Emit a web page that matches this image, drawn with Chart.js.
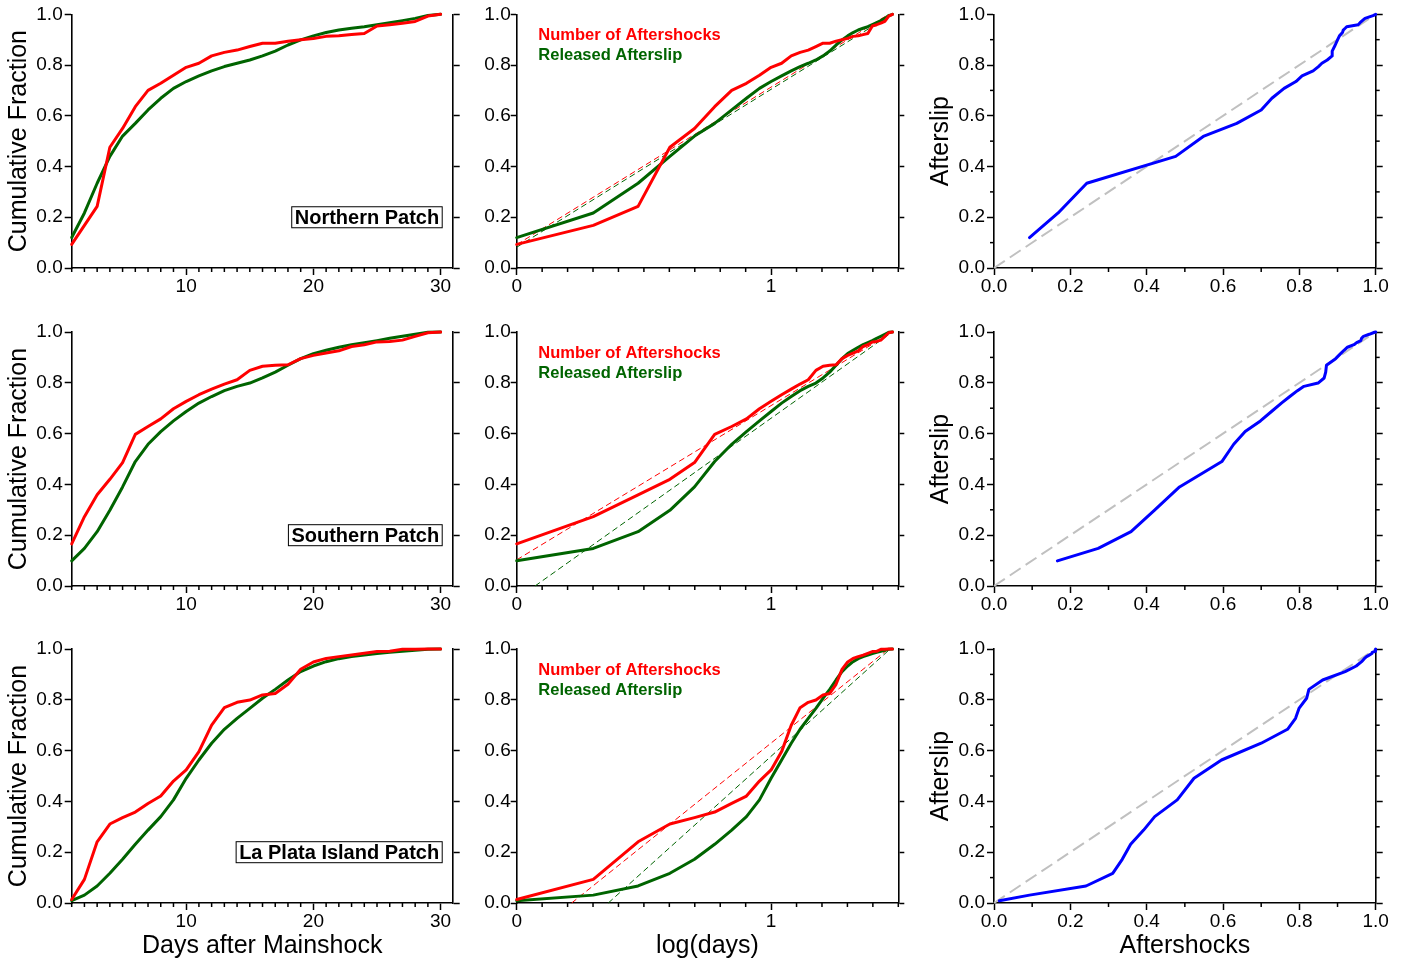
<!DOCTYPE html>
<html>
<head>
<meta charset="utf-8">
<script src="https://cdn.jsdelivr.net/npm/chart.js@4"></script>
<style>
  body { margin: 0; background: #fff; width: 1406px; height: 962px; position: relative; overflow: hidden; }
  canvas { position: absolute; }
</style>
</head>
<body>
<script>
const FONT = "'Liberation Sans', Arial, Helvetica, sans-serif";
const RED = '#ff0000', GREEN = '#006400', BLUE = '#0000ff', GREY = '#c0c0c0';

// ---- data ----
const days = [1, 2, 3, 4, 5, 6, 7, 8, 9, 10, 11, 12, 13, 14, 15, 16, 17, 18, 19, 20, 21, 22, 23, 24, 25, 26, 27, 28, 29, 30];
const patchNames = ['Northern Patch', 'Southern Patch', 'La Plata Island Patch'];
const seriesNames = ['Number of Aftershocks', 'Released Afterslip'];

const northShocks = [0.093, 0.168, 0.243, 0.476, 0.55, 0.636, 0.70, 0.728, 0.76, 0.791, 0.807, 0.836, 0.850, 0.859, 0.873, 0.886, 0.886, 0.894, 0.900, 0.905, 0.913, 0.915, 0.920, 0.924, 0.954, 0.959, 0.965, 0.972, 0.993, 1.0];
const northSlip = [0.12, 0.217, 0.334, 0.44, 0.52, 0.57, 0.623, 0.669, 0.708, 0.735, 0.757, 0.777, 0.794, 0.807, 0.82, 0.836, 0.855, 0.879, 0.899, 0.915, 0.928, 0.938, 0.945, 0.951, 0.959, 0.967, 0.975, 0.984, 0.995, 1.0];
const southShocks = [0.166, 0.273, 0.359, 0.42, 0.486, 0.597, 0.628, 0.658, 0.698, 0.727, 0.753, 0.775, 0.795, 0.812, 0.849, 0.865, 0.869, 0.871, 0.895, 0.908, 0.917, 0.926, 0.943, 0.95, 0.961, 0.963, 0.968, 0.983, 0.997, 1.0];
const southSlip = [0.099, 0.148, 0.214, 0.298, 0.39, 0.49, 0.558, 0.608, 0.65, 0.687, 0.72, 0.746, 0.769, 0.786, 0.799, 0.819, 0.842, 0.869, 0.895, 0.915, 0.928, 0.94, 0.95, 0.958, 0.966, 0.975, 0.983, 0.991, 0.999, 1.0];
const plataShocks = [0.014, 0.093, 0.241, 0.311, 0.336, 0.358, 0.392, 0.421, 0.48, 0.524, 0.596, 0.70, 0.769, 0.79, 0.799, 0.819, 0.825, 0.861, 0.92, 0.949, 0.963, 0.97, 0.976, 0.983, 0.99, 0.991, 0.999, 0.999, 1.0, 1.0];
const plataSlip = [0.009, 0.031, 0.067, 0.117, 0.172, 0.231, 0.287, 0.34, 0.406, 0.491, 0.563, 0.629, 0.684, 0.727, 0.766, 0.806, 0.841, 0.878, 0.911, 0.933, 0.95, 0.962, 0.97, 0.976, 0.982, 0.987, 0.991, 0.995, 0.999, 1.0];

// straight-line fits in log(days), as [start, end] points
const shockFits = [[[0, 0.092], [1.462, 1.0]], [[0, 0.103], [1.477, 1.0]], [[0.216, 0], [1.461, 1.0]]];
const slipFits = [[[0, 0.082], [1.475, 1.0]], [[0.072, 0], [1.477, 1.0]], [[0.36, 0], [1.468, 1.0]]];
const diagonal = [0, 1];

const dayLabels = [10, 20, 30];
const logLabels = [0, 1];
const fracLabels = [0, 0.2, 0.4, 0.6, 0.8, 1];

const shocks = [northShocks, southShocks, plataShocks];
const slips = [northSlip, southSlip, plataSlip];

// ---- layout ----
const cols = [
  { left: 0, width: 470, yw: 71.7, rw: 17.3 },
  { left: 470, width: 450, yw: 46.7, rw: 21.7 },
  { left: 920, width: 486, yw: 74, rw: 30.3 }
];
const rows = [
  { top: 0, height: 317, pt: 14.3, xh: 49 },
  { top: 317, height: 317, pt: 15, xh: 48 },
  { top: 634, height: 328, pt: 15, xh: 59 }
];

function near(v, list) {
  return list.some(m => Math.abs(v - m) < 1e-6);
}

const dayAxis = { min: 1, max: 30.95, step: 1, majors: dayLabels, fmt: v => String(v), tl: 7, pad: 0, minor: 4 };
const logAxis = { min: 0, max: 1.5, step: 0.1, majors: logLabels, fmt: v => String(v), tl: 7, pad: 0, minor: 4 };
const fracAxis = { min: 0, max: 1, step: 0.1, majors: fracLabels, fmt: v => v.toFixed(1), tl: 7, pad: 2, minor: 4 };
const fracAxisX = Object.assign({}, fracAxis, { pad: 0 });
const cumAxis = { min: 0, max: 1, step: 0.2, majors: fracLabels, fmt: v => v.toFixed(1), tl: 7, pad: 2, minor: 0 };
const cumAxis2 = Object.assign({}, cumAxis, { tl: 6, pad: 0 });

function scaleCfg(a, pos, size, title) {
  const cfg = {
    type: 'linear', position: pos, min: a.min, max: a.max,
    afterFit: s => { if (pos === 'bottom') s.height = size; else s.width = size; },
    ticks: {
      display: pos !== 'right', stepSize: a.step, autoSkip: false, maxRotation: 0, minRotation: 0,
      includeBounds: false, padding: a.pad, color: '#000', font: { family: FONT, size: 19 },
      callback: v => near(v, a.majors) ? a.fmt(v) : ''
    },
    grid: {
      drawOnChartArea: false, drawTicks: true, tickLength: a.tl, tickWidth: 1.5,
      tickColor: c => (!c.tick || near(c.tick.value, a.majors)) ? '#000' : 'rgba(0,0,0,0)'
    },
    border: { display: true, color: '#000', width: 1.6 },
    title: { display: false }
  };
  if (title) {
    cfg.title = {
      display: true, text: title.text, color: '#000',
      font: { family: FONT, size: title.size },
      padding: title.padding
    };
  }
  return cfg;
}

// short minor ticks, placed with the chart's own scales
function minorTicks(specs) {
  return {
    id: 'minorTicks',
    afterDraw(chart) {
      const ctx = chart.ctx;
      ctx.save();
      ctx.strokeStyle = '#000';
      ctx.lineWidth = 1.5;
      Object.keys(specs).forEach(id => {
        const a = specs[id], s = chart.scales[id];
        if (!a.minor) return;
        s.ticks.forEach(t => {
          if (near(t.value, a.majors)) return;
          const p = s.getPixelForValue(t.value);
          ctx.beginPath();
          if (s.isHorizontal()) { ctx.moveTo(p, s.top); ctx.lineTo(p, s.top + a.minor); }
          else if (s.position === 'left') { ctx.moveTo(s.right, p); ctx.lineTo(s.right - a.minor, p); }
          else { ctx.moveTo(s.left, p); ctx.lineTo(s.left + a.minor, p); }
          ctx.stroke();
        });
      });
      ctx.restore();
    }
  };
}

function patchBox(text) {
  return {
    id: 'patchBox',
    afterDraw(chart) {
      const { ctx, chartArea, scales } = chart;
      ctx.save();
      ctx.font = 'bold 20px ' + FONT;
      const w = ctx.measureText(text).width;
      const bw = w + 7, bh = 22;
      const right = chartArea.right - 10;
      const cy = scales.y.getPixelForValue(0.2);
      ctx.fillStyle = '#fff';
      ctx.fillRect(right - bw, cy - bh / 2, bw, bh);
      ctx.strokeStyle = '#000';
      ctx.lineWidth = 1;
      ctx.strokeRect(right - bw + 0.5, cy - bh / 2 + 0.5, bw - 1, bh - 1);
      ctx.fillStyle = '#000';
      ctx.textAlign = 'center';
      ctx.textBaseline = 'middle';
      ctx.fillText(text, right - bw / 2, cy + 1);
      ctx.restore();
    }
  };
}

const seriesLegend = {
  id: 'seriesLegend',
  afterDraw(chart) {
    const { ctx, chartArea } = chart;
    ctx.save();
    ctx.font = 'bold 16.5px ' + FONT;
    ctx.textAlign = 'left';
    ctx.textBaseline = 'middle';
    ctx.fillStyle = RED;
    ctx.fillText(seriesNames[0], chartArea.left + 21.6, chartArea.top + 21.5);
    ctx.fillStyle = GREEN;
    ctx.fillText(seriesNames[1], chartArea.left + 21.6, chartArea.top + 41.5);
    ctx.restore();
  }
};

function line(data, color, width, dash) {
  return {
    data: data, showLine: true, borderColor: color, backgroundColor: color,
    borderWidth: width, borderDash: dash || [], pointRadius: 0, pointHoverRadius: 0,
    tension: 0, clip: false, borderJoinStyle: 'round', borderCapStyle: dash ? 'butt' : 'round'
  };
}

function panel(r, c, datasets, xa, ya, xTitle, yTitle, extra) {
  const cv = document.createElement('canvas');
  cv.width = cols[c].width;
  cv.height = rows[r].height;
  cv.style.left = cols[c].left + 'px';
  cv.style.top = rows[r].top + 'px';
  document.body.appendChild(cv);
  const plugins = [minorTicks({ x: xa, y: ya, y2: ya })];
  if (extra) plugins.push(extra);
  new Chart(cv, {
    type: 'scatter',
    data: { datasets: datasets },
    options: {
      responsive: false, animation: false, devicePixelRatio: 1,
      layout: { padding: { top: rows[r].pt, left: 0, right: 0, bottom: 0 } },
      plugins: { legend: { display: false }, tooltip: { enabled: false } },
      scales: {
        x: scaleCfg(xa, 'bottom', rows[r].xh, xTitle),
        y: scaleCfg(ya, 'left', cols[c].yw, yTitle),
        y2: scaleCfg(ya, 'right', cols[c].rw, null)
      }
    },
    plugins: plugins
  });
}

const pts = (xs, ys) => xs.map((x, i) => ({ x: x, y: ys[i] }));
const logDays = days.map(d => Math.log10(d));

for (let r = 0; r < 3; r++) {
  const last = r === 2;
  // column 1: cumulative fraction vs days
  panel(r, 0,
    [line(pts(days, shocks[r]), RED, 3), line(pts(days, slips[r]), GREEN, 3)],
    dayAxis, cumAxis,
    last ? { text: 'Days after Mainshock', size: 25, padding: { top: 0, bottom: 1 } } : null,
    { text: 'Cumulative Fraction', size: 25, padding: { top: 4, bottom: 0 } },
    patchBox(patchNames[r]));
  // column 2: cumulative fraction vs log(days), with straight fits
  const sf = shockFits[r], lf = slipFits[r];
  panel(r, 1,
    [line(pts(logDays, shocks[r]), RED, 3), line(pts(logDays, slips[r]), GREEN, 3),
     line(pts([sf[0][0], sf[1][0]], [sf[0][1], sf[1][1]]), RED, 1, [6, 3.5]),
     line(pts([lf[0][0], lf[1][0]], [lf[0][1], lf[1][1]]), GREEN, 1, [6, 3.5])],
    logAxis, cumAxis2,
    last ? { text: 'log(days)', size: 25, padding: { top: 0, bottom: 1 } } : null,
    null,
    seriesLegend);
  // column 3: afterslip vs aftershocks
  panel(r, 2,
    [line(pts(shocks[r], slips[r]), BLUE, 3), line(pts(diagonal, diagonal), GREY, 2, [13, 6])],
    fracAxisX, fracAxis,
    last ? { text: 'Aftershocks', size: 25, padding: { top: 0, bottom: 1 } } : null,
    { text: 'Afterslip', size: 25, padding: { top: 6, bottom: 0 } },
    null);
}
</script>
</body>
</html>
